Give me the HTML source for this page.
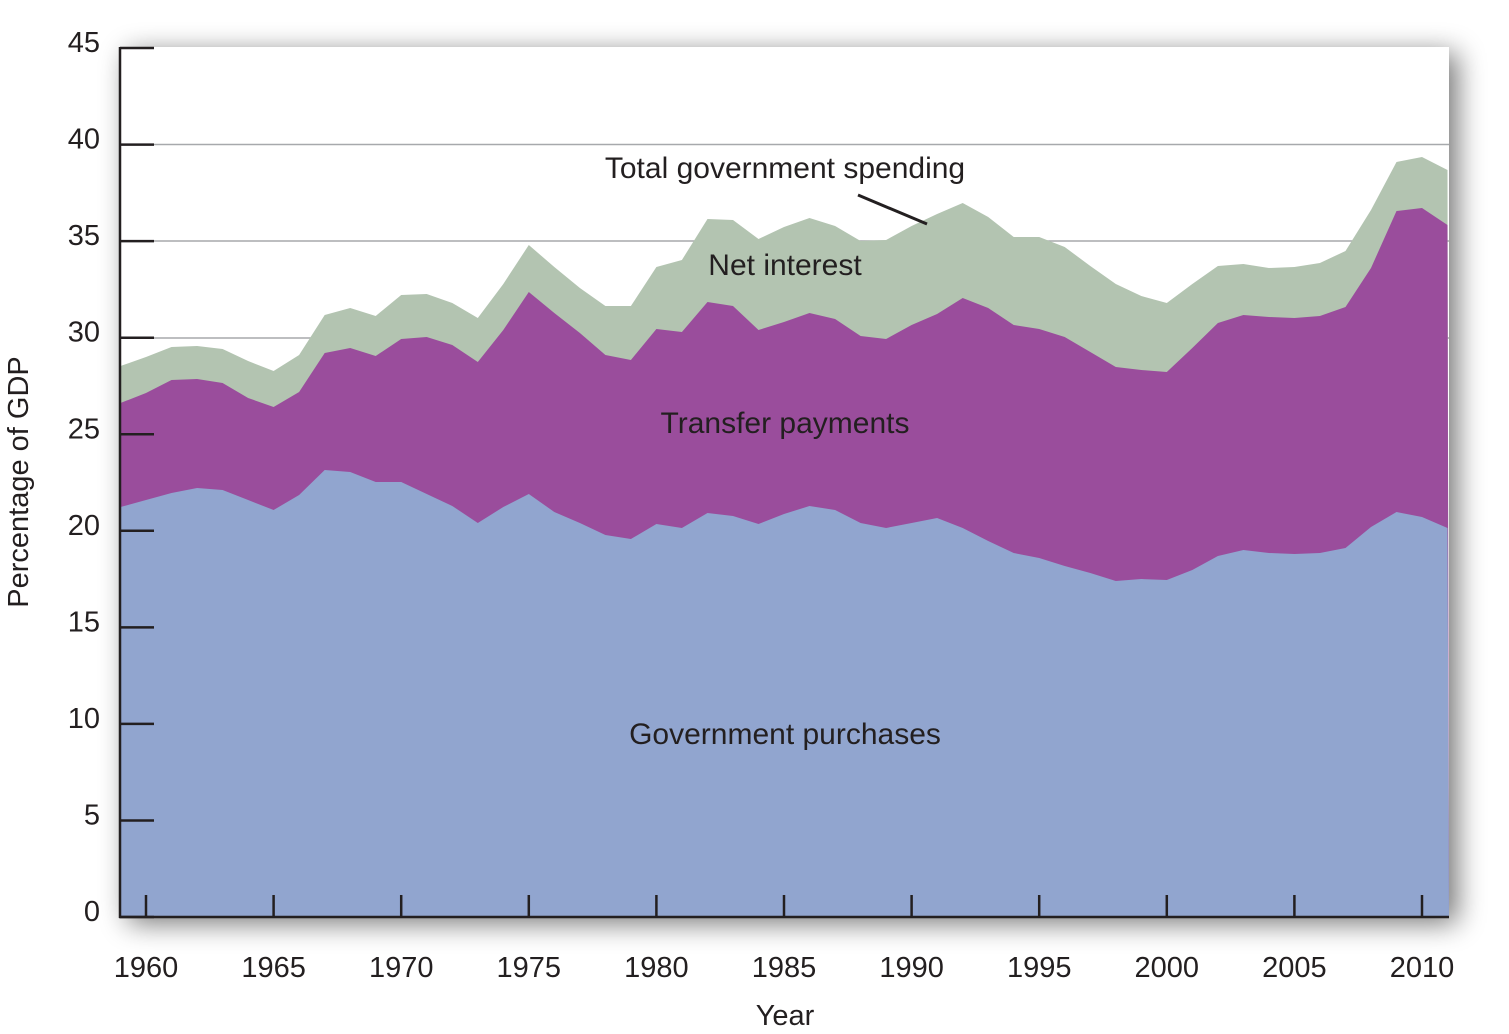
<!DOCTYPE html>
<html><head><meta charset="utf-8"><style>
html,body{margin:0;padding:0;background:#fff;}
svg{display:block;}
text{font-family:"Liberation Sans",sans-serif;fill:#231f20;}
</style></head><body>
<svg id="s" width="1509" height="1034" viewBox="0 0 1509 1034" xmlns="http://www.w3.org/2000/svg">
<defs>
<filter id="sh" x="-10%" y="-10%" width="120%" height="120%">
<feGaussianBlur in="SourceAlpha" stdDeviation="14"/>
<feOffset dx="8" dy="6"/>
<feComponentTransfer><feFuncA type="linear" slope="0.55"/></feComponentTransfer>
<feMerge><feMergeNode/><feMergeNode in="SourceGraphic"/></feMerge>
</filter>
</defs>
<rect x="120" y="47" width="1329" height="870" fill="#fff" filter="url(#sh)"/>
<g stroke="#a7a9ac" stroke-width="1.5">
<line x1="120" y1="144.5" x2="1449" y2="144.5"/>
<line x1="120" y1="241" x2="1449" y2="241"/>
<line x1="120" y1="338" x2="1449" y2="338"/>
</g>
<g id="areas"></g>
<g id="axes" stroke="#231f20" stroke-width="2.5" fill="none">
<line x1="120" y1="47" x2="120" y2="918"/>
<line x1="119" y1="917" x2="1449" y2="917"/>
</g>
<g id="lab" font-size="29"></g>
<text x="785" y="178" font-size="30" text-anchor="middle">Total government spending</text>
<line x1="858" y1="195" x2="927" y2="224" stroke="#231f20" stroke-width="3"/>
<text x="785" y="275" font-size="30" text-anchor="middle">Net interest</text>
<text x="785" y="433" font-size="30" text-anchor="middle">Transfer payments</text>
<text x="785" y="744" font-size="30" text-anchor="middle">Government purchases</text>
<text x="785" y="1025" font-size="29" text-anchor="middle">Year</text>
<text transform="translate(28,482) rotate(-90)" font-size="29" text-anchor="middle">Percentage of GDP</text>
</svg>
<script>
var P=[507,500,493,488,490,500,510,495,470,472,482,482,494,506,523,507,494,512,523,535,539,524,528,513,516,524,514,506,510,523,528,523,518,528,541,553,558,566,573,581,579,580,570,556,550,553,554,553,548,527,512,517,528];
var T=[403,393,380,379,383,398,407,392,353,348,356,339,337,345,362,330,292,313,333,355,360,329,332,302,306,330,322,313,319,336,339,325,314,298,308,325,329,337,352,367,370,372,348,323,315,317,318,316,307,268,211,208,225];
var G=[366,357,347,346,349,361,371,355,315,308,316,295,294,303,318,284,245,267,288,306,306,267,260,219,220,239,227,218,226,241,240,226,214,203,217,237,237,247,266,284,296,303,284,266,264,268,267,263,251,210,162,157,170];
function x(i){var v=120.5+i*25.52;return Math.min(v,1449);}
function poly(a,c){var s="120,917 ";for(var i=0;i<a.length;i++)s+=x(i).toFixed(1)+","+a[i]+" ";s+="1449,917";return '<polygon points="'+s+'" fill="'+c+'"/>';}
document.getElementById("areas").innerHTML=poly(G,"#b3c4b1")+poly(T,"#9a4d9c")+poly(P,"#91a5cf");
var ax="",lb="";
for(var k=0;k<=9;k++){var y=917-k*5*19.31;ax+='<line x1="120" y1="'+y+'" x2="154" y2="'+y+'"/>';lb+='<text x="100" y="'+(y+4)+'" text-anchor="end">'+(k*5)+'</text>';}
for(var yr=1960;yr<=2010;yr+=5){var xx=146+(yr-1960)*25.52;ax+='<line x1="'+xx+'" y1="895" x2="'+xx+'" y2="917"/>';lb+='<text x="'+xx+'" y="977" text-anchor="middle">'+yr+'</text>';}
document.getElementById("axes").innerHTML+=ax;
document.getElementById("lab").innerHTML=lb;
</script>
</body></html>
